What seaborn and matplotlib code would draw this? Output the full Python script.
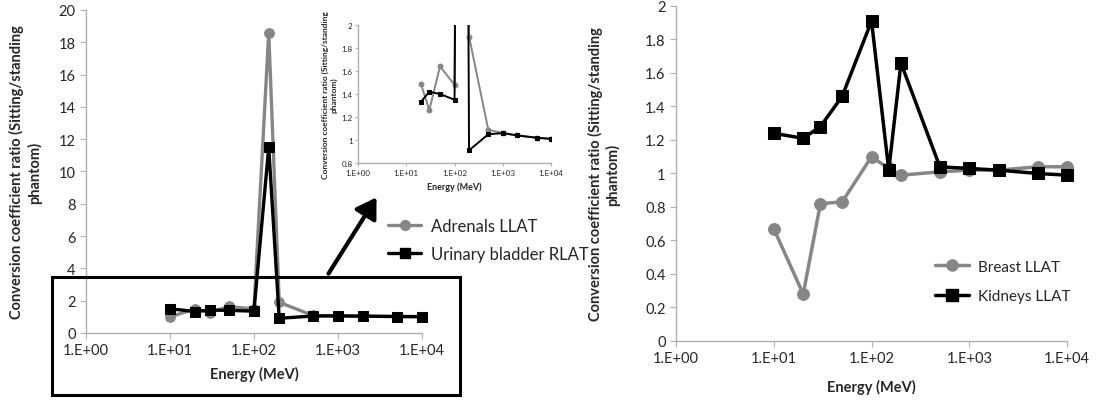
import matplotlib
matplotlib.use("Agg")
import matplotlib.pyplot as plt
import seaborn as sns
import pandas as pd
from matplotlib.lines import Line2D
from matplotlib.patches import Rectangle, FancyArrowPatch

# energies (MeV), same grid for all series
energy = [10, 20, 30, 50, 100, 150, 200, 500, 1000, 2000, 5000, 10000]

# left panel
adrenals_llat = [1.0, 1.49, 1.26, 1.64, 1.48, 18.6, 1.9, 1.09, 1.06, 1.04, 1.02, 1.01]
bladder_rlat = [1.5, 1.33, 1.42, 1.40, 1.35, 11.5, 0.91, 1.05, 1.06, 1.04, 1.02, 1.01]

# right panel
breast_llat = [0.67, 0.28, 0.82, 0.83, 1.10, 1.03, 0.99, 1.01, 1.02, 1.02, 1.04, 1.04]
kidneys_llat = [1.24, 1.21, 1.28, 1.46, 1.91, 1.02, 1.66, 1.04, 1.03, 1.02, 1.00, 0.99]

xticks = [1, 10, 100, 1000, 10000]
xticklabels = ["1.E+00", "1.E+01", "1.E+02", "1.E+03", "1.E+04"]
ylabel = "Conversion coefficient ratio (Sitting/standing\nphantom)"

GRAY = "#868686"
AXCOL = "#b0b0b0"

sns.set_style("white")
plt.rcParams["font.family"] = ["Lato", "DejaVu Sans"]


def style_axes(ax, fs, tick_len=4):
    """ Excel-like axes: grey left/bottom spines, no grid. """
    for s in ["top", "right"]:
        ax.spines[s].set_visible(False)
    for s in ["left", "bottom"]:
        ax.spines[s].set_color(AXCOL)
        ax.spines[s].set_linewidth(1.0)
    ax.set_xscale("log")
    ax.set_xlim(1, 10000)
    ax.set_xticks(xticks)
    ax.set_xticklabels(xticklabels)
    ax.minorticks_off()
    ax.tick_params(axis="both", direction="out", length=tick_len, width=0.8,
                   color=AXCOL, labelsize=fs, left=True, bottom=True)
    ax.grid(False)


def draw_pair(ax, df, gray_col, black_col, ms, lw, clip=True):
    sns.lineplot(data=df, x="energy", y=gray_col, ax=ax, color=GRAY, marker="o",
                 markersize=ms, markeredgecolor=GRAY, linewidth=lw, sort=False)
    sns.lineplot(data=df, x="energy", y=black_col, ax=ax, color="black", marker="s",
                 markersize=ms, markeredgecolor="black", linewidth=lw, sort=False)
    for ln in ax.lines:
        ln.set_clip_on(clip)


fig = plt.figure(figsize=(11.15, 4.02), dpi=100)

# ---------------- left main panel ----------------
left_df = pd.DataFrame({"energy": energy, "adrenals": adrenals_llat, "bladder": bladder_rlat})
ax1 = fig.add_axes([0.0771, 0.1692, 0.3013, 0.8035])
draw_pair(ax1, left_df, "adrenals", "bladder", ms=7, lw=2.4, clip=False)
style_axes(ax1, 10.5)
ax1.set_ylim(0, 20)
ax1.set_yticks(range(0, 21, 2))
ax1.set_xlabel("Energy (MeV)", fontsize=10.5, fontweight="bold", labelpad=6)
ax1.set_ylabel(ylabel, fontsize=10.5, fontweight="bold", labelpad=12)

# ---------------- inset (zoom of the box) ----------------
inset_df = left_df.iloc[1:]
ax_in = fig.add_axes([0.3211, 0.592, 0.1731, 0.3433])
draw_pair(ax_in, inset_df, "adrenals", "bladder", ms=3.5, lw=1.4, clip=True)
style_axes(ax_in, 5.8, tick_len=2)
ax_in.set_ylim(0.8, 2.0)
ax_in.set_yticks([0.8, 1, 1.2, 1.4, 1.6, 1.8, 2])
ax_in.set_yticklabels(["0.8", "1", "1.2", "1.4", "1.6", "1.8", "2"])
ax_in.tick_params(pad=2)
ax_in.set_xlabel("Energy (MeV)", fontsize=6.5, fontweight="bold", labelpad=4)
ax_in.set_ylabel(ylabel, fontsize=6, fontweight="bold", labelpad=3)
ax_in.patch.set_alpha(0)

# zoom box and arrow
fig.add_artist(Rectangle((0.0466, 0.0149), 0.3659, 0.2935, transform=fig.transFigure,
                         fill=False, edgecolor="black", linewidth=2.2))
fig.add_artist(FancyArrowPatch((0.2933, 0.311), (0.339, 0.5124), transform=fig.transFigure,
                               arrowstyle="-|>,head_length=8,head_width=5",
                               color="black", linewidth=3, mutation_scale=1.5))

left_handles = [
    Line2D([], [], color=GRAY, marker="o", markersize=7, linewidth=2.4),
    Line2D([], [], color="black", marker="s", markersize=7, linewidth=2.4),
]
fig.legend(left_handles, ["Adrenals LLAT", "Urinary bladder RLAT"],
           loc="center left", bbox_to_anchor=(0.348, 0.4005), bbox_transform=fig.transFigure,
           frameon=False, fontsize=12, borderpad=0, borderaxespad=0,
           handlelength=2.0, handletextpad=0.55, labelspacing=0.7)

# ---------------- right panel ----------------
right_df = pd.DataFrame({"energy": energy, "breast": breast_llat, "kidneys": kidneys_llat})
ax2 = fig.add_axes([0.6063, 0.1493, 0.3507, 0.8333])
draw_pair(ax2, right_df, "breast", "kidneys", ms=8.5, lw=2.5, clip=False)
style_axes(ax2, 10.5)
ax2.set_ylim(0, 2)
ax2.set_yticks([0, 0.2, 0.4, 0.6, 0.8, 1, 1.2, 1.4, 1.6, 1.8, 2])
ax2.set_yticklabels(["0", "0.2", "0.4", "0.6", "0.8", "1", "1.2", "1.4", "1.6", "1.8", "2"])
ax2.set_xlabel("Energy (MeV)", fontsize=10.5, fontweight="bold", labelpad=10)
ax2.set_ylabel(ylabel, fontsize=10.5, fontweight="bold", labelpad=18)

right_handles = [
    Line2D([], [], color=GRAY, marker="o", markersize=8, linewidth=2.5),
    Line2D([], [], color="black", marker="s", markersize=8, linewidth=2.5),
]
fig.legend(right_handles, ["Breast LLAT", "Kidneys LLAT"],
           loc="center left", bbox_to_anchor=(0.8386, 0.2973), bbox_transform=fig.transFigure,
           frameon=False, fontsize=11, borderpad=0, borderaxespad=0,
           handlelength=2.2, handletextpad=0.6, labelspacing=1.0)

fig.savefig("out.png", dpi=100)
